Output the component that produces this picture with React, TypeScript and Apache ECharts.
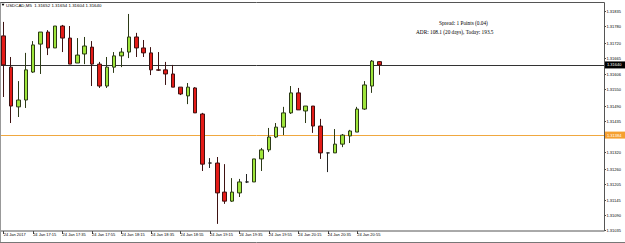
import React, { useEffect, useRef } from "react";
import * as echarts from "echarts";

const symbolTitle = "USDCAD,M5  1.31652 1.31654 1.31604 1.31640";
const infoSpread = "Spread: 1 Points (0.04)";
const infoADR = "ADR: 108.1 (20 days), Today: 193.5";

const times = [
  "16:55", "17:00", "17:05", "17:10", "17:15", "17:20", "17:25", "17:30", "17:35", "17:40",
  "17:45", "17:50", "17:55", "18:00", "18:05", "18:10", "18:15", "18:20", "18:25", "18:30",
  "18:35", "18:40", "18:45", "18:50", "18:55", "19:00", "19:05", "19:10", "19:15", "19:20",
  "19:25", "19:30", "19:35", "19:40", "19:45", "19:50", "19:55", "20:00", "20:05", "20:10",
  "20:15", "20:20", "20:25", "20:30", "20:35", "20:40", "20:45", "20:50", "20:55", "21:00",
  "21:05", "21:10",
];
const emptySlots = 30;

const xTickLabels = [
  "24 Jan 2017", "24 Jan 17:15", "24 Jan 17:35", "24 Jan 17:55", "24 Jan 18:15",
  "24 Jan 18:35", "24 Jan 18:55", "24 Jan 19:15", "24 Jan 19:35", "24 Jan 19:55",
  "24 Jan 20:15", "24 Jan 20:35", "24 Jan 20:55",
];

const opens = [
  1.31746, 1.31632, 1.31487, 1.31512, 1.31614, 1.31716, 1.3176, 1.31702, 1.31782, 1.31738,
  1.31647, 1.3168, 1.31705, 1.31643, 1.31563, 1.31632, 1.31673, 1.31687, 1.31742, 1.31702,
  1.31684, 1.31622, 1.31622, 1.31607, 1.31559, 1.31527, 1.31556, 1.31461, 1.31282, 1.31282,
  1.31176, 1.31143, 1.31173, 1.31213, 1.31213, 1.31297, 1.3133, 1.31377, 1.31413, 1.31465,
  1.31538, 1.31472, 1.3149, 1.31417, 1.31319, 1.31319, 1.31351, 1.31381, 1.31395, 1.31479,
  1.31563, 1.31652,
];
const closes = [
  1.3164, 1.3149, 1.31512, 1.31622, 1.31713, 1.3176, 1.31702, 1.31782, 1.31738, 1.31643,
  1.31676, 1.31709, 1.31643, 1.31563, 1.31632, 1.31673, 1.31687, 1.31742, 1.31702, 1.31684,
  1.31622, 1.31621, 1.31607, 1.31559, 1.31534, 1.31559, 1.31465, 1.31278, 1.31282, 1.31173,
  1.31143, 1.31176, 1.31213, 1.31213, 1.31297, 1.3133, 1.31377, 1.31413, 1.31465, 1.31538,
  1.31476, 1.3149, 1.31417, 1.31319, 1.31319, 1.31351, 1.31384, 1.31399, 1.31479, 1.31567,
  1.31654, 1.3164,
];
const lows = [
  1.31523, 1.31428, 1.3145, 1.31483, 1.31611, 1.31607, 1.31676, 1.31702, 1.31687, 1.31643,
  1.31647, 1.31643, 1.31563, 1.31556, 1.31556, 1.31611, 1.31632, 1.31665, 1.31669, 1.31669,
  1.31603, 1.31618, 1.31567, 1.31559, 1.3153, 1.31497, 1.31465, 1.31253, 1.31264, 1.3106,
  1.31133, 1.3114, 1.31158, 1.31209, 1.31213, 1.31253, 1.31322, 1.31373, 1.31384, 1.31461,
  1.31476, 1.31428, 1.31392, 1.31297, 1.31249, 1.31319, 1.3134, 1.31355, 1.31395, 1.31476,
  1.31538, 1.31604,
];
const highs = [
  1.31797, 1.31669, 1.31581, 1.31684, 1.31727, 1.3176, 1.31767, 1.31782, 1.31786, 1.31782,
  1.31738, 1.31742, 1.31727, 1.31651, 1.31669, 1.31687, 1.31702, 1.31826, 1.31757, 1.31731,
  1.31705, 1.31687, 1.31651, 1.3164, 1.31559, 1.31574, 1.31559, 1.31465, 1.313, 1.31304,
  1.31278, 1.31227, 1.31224, 1.31242, 1.31297, 1.31337, 1.3141, 1.31428, 1.31487, 1.31563,
  1.31556, 1.3149, 1.3149, 1.31443, 1.31319, 1.31406, 1.31388, 1.31403, 1.31487, 1.31581,
  1.31658, 1.31654,
];

const yTickValues = [
  1.31835, 1.3178, 1.3172, 1.31665, 1.31606, 1.3155, 1.3149, 1.31435, 1.3132,
  1.3126, 1.31205, 1.31145, 1.3109, 1.31035,
];
const currentPrice = 1.3164;
const levelPrice = 1.31384;
const yMin = 1.31034;
const yMax = 1.31866;

const FONT = "Liberation Sans";

export default function App() {
  const ref = useRef<HTMLDivElement>(null);

  useEffect(() => {
    if (!ref.current) return;
    const chart = echarts.init(ref.current, undefined, { renderer: "svg" });
    const categories = [...times, ...Array(emptySlots).fill("")];
    const data = opens.map((o, i) => [o, closes[i], lows[i], highs[i]]);
    const showIdx = (i: number) => i % 4 === 0 && i < times.length;

    chart.setOption({
      animation: false,
      backgroundColor: "#ffffff",
      grid: { left: -2.7, top: 3, width: 606.7, height: 228, containLabel: false },
      xAxis: {
        type: "category",
        data: categories,
        boundaryGap: true,
        axisLine: { show: false },
        axisTick: {
          show: true,
          alignWithLabel: true,
          interval: (i: number) => showIdx(i),
          length: 3,
          lineStyle: { color: "#444", width: 1 },
        },
        axisLabel: {
          interval: (i: number) => showIdx(i),
          formatter: (_v: string, i: number) => xTickLabels[i / 4] ?? "",
          align: "left",
          fontSize: 4,
          fontFamily: FONT,
          color: "#000",
          margin: 1.5,
        },
        splitLine: { show: false },
      },
      yAxis: {
        type: "value",
        position: "right",
        min: yMin,
        max: yMax,
        scale: true,
        axisLine: { show: false },
        axisTick: {
          show: true,
          customValues: yTickValues,
          length: 2,
          lineStyle: { color: "#444" },
        },
        axisLabel: {
          customValues: yTickValues,
          formatter: (v: number) => v.toFixed(5),
          fontSize: 4,
          fontFamily: FONT,
          color: "#000",
          margin: 2.5,
        },
        splitLine: { show: false },
      },
      series: [
        {
          type: "candlestick",
          data,
          barWidth: 4,
          z: 3,
          itemStyle: {
            color: "#9ee53b",
            color0: "#e41b17",
            borderColor: "#2c3a16",
            borderColor0: "#3e1212",
            borderColorDoji: "#222",
            borderWidth: 1,
          },
        },
      ],
    });

    const yCur = chart.convertToPixel({ yAxisIndex: 0 }, currentPrice) as number;
    const yLvl = chart.convertToPixel({ yAxisIndex: 0 }, levelPrice) as number;

    const priceBox = (y: number, price: number, bg: string) => ({
      type: "group",
      z: 20,
      children: [
        { type: "rect", shape: { x: 605, y: y - 3.5, width: 20, height: 7 }, style: { fill: bg }, z: 20 },
        {
          type: "text",
          x: 607,
          y,
          style: { text: price.toFixed(5), fontSize: 4, fontFamily: FONT, fill: "#fff", verticalAlign: "middle", align: "left" },
          z: 21,
        },
      ],
    });

    chart.setOption({
      graphic: [
        { type: "line", shape: { x1: 0, y1: Math.round(yLvl) + 0.5, x2: 604.5, y2: Math.round(yLvl) + 0.5 }, style: { stroke: "#f0a840", lineWidth: 1 }, z: 2 },
        { type: "line", shape: { x1: 0, y1: Math.round(yCur) + 0.5, x2: 604.5, y2: Math.round(yCur) + 0.5 }, style: { stroke: "#333", lineWidth: 1 }, z: 2 },
        { type: "line", shape: { x1: 0, y1: 2.5, x2: 604.5, y2: 2.5 }, style: { stroke: "#555", lineWidth: 1 }, z: 10 },
        { type: "line", shape: { x1: 604.5, y1: 2.5, x2: 604.5, y2: 231 }, style: { stroke: "#555", lineWidth: 1 }, z: 10 },
        { type: "line", shape: { x1: 0, y1: 231, x2: 604.5, y2: 231 }, style: { stroke: "#555", lineWidth: 1 }, z: 10 },
        { type: "line", shape: { x1: 0.5, y1: 2.5, x2: 0.5, y2: 243 }, style: { stroke: "#999", lineWidth: 1 }, z: 10 },
        { type: "line", shape: { x1: 0, y1: 242.5, x2: 625, y2: 242.5 }, style: { stroke: "#777", lineWidth: 1 }, z: 10 },
        { type: "polygon", shape: { points: [[1.5, 3.8], [4.5, 3.8], [3, 6]] }, style: { fill: "#000" }, z: 10 },
        {
          type: "text",
          x: 6,
          y: 5,
          style: { text: symbolTitle, fontSize: 4.4, fontFamily: FONT, fill: "#000", verticalAlign: "middle", align: "left" },
          z: 10,
        },
        {
          type: "text",
          x: 439,
          y: 23,
          style: { text: infoSpread, fontSize: 5.3, fontFamily: "Liberation Serif", fill: "#000", verticalAlign: "middle", align: "left" },
          z: 10,
        },
        {
          type: "text",
          x: 416,
          y: 32,
          style: { text: infoADR, fontSize: 5.3, fontFamily: "Liberation Serif", fill: "#000", verticalAlign: "middle", align: "left" },
          z: 10,
        },
        priceBox(yCur, currentPrice, "#000"),
        priceBox(yLvl, levelPrice, "#f5a030"),
      ],
    });

    return () => chart.dispose();
  }, []);

  return (
    <div
      ref={ref}
      style={{ position: "fixed", left: 0, top: 0, width: 625, height: 243, background: "#fff" }}
    />
  );
}
